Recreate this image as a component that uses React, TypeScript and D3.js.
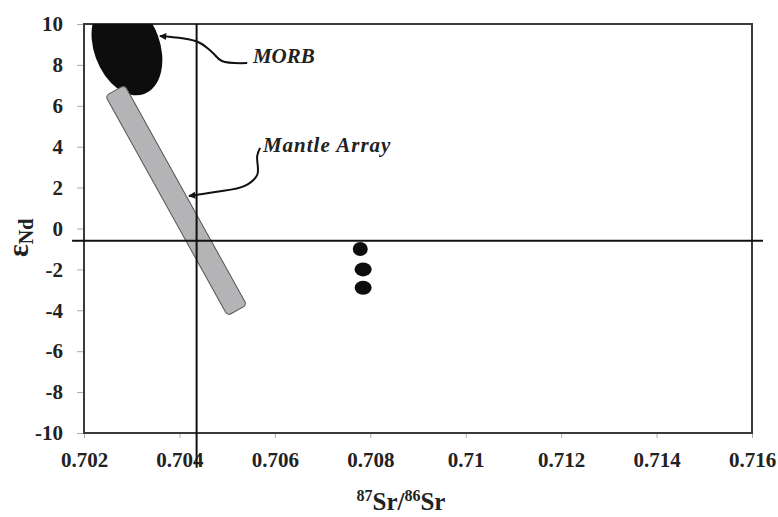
import React, { useRef, useEffect } from 'react';
import * as d3 from 'd3';

const xTicks = [0.702, 0.704, 0.706, 0.708, 0.71, 0.712, 0.714, 0.716];
const yTicks = [-10, -8, -6, -4, -2, 0, 2, 4, 6, 8, 10];

// sample points (87Sr/86Sr, eNd)
const sampleSr = [0.70779, 0.70785, 0.70785];
const sampleNd = [-1, -2, -2.9];

// MORB field: ends of the major axis, and minor/major ratio
const morbAxis: [number, number][] = [[0.70254, 11.17], [0.70326, 6.58]];
const morbRatio = 0.66;

// mantle array: centres of the two ends
const mantleArray: [number, number][] = [[0.70265, 6.75], [0.70521, -4.0]];

// reference lines
const refNd = -0.6;
const refNdSpan = [0.70175, 0.71623];
const refSr = 0.70436;
const refSrSpan = [10, -11.7];

// annotations
const morbArrow: [number, number][] = [
  [0.70542, 8.09], [0.70489, 8.19], [0.70468, 8.63], [0.70439, 9.12], [0.70359, 9.41],
];
const mantleArrow: [number, number][] = [
  [0.70569, 3.94], [0.70563, 3.55], [0.70563, 2.62], [0.70537, 2.08], [0.70475, 1.78], [0.7042, 1.59],
];
const labels = [
  { text: 'MORB', sr: 0.70554, nd: 8.09, spacing: 0 },
  { text: 'Mantle Array', sr: 0.70575, nd: 3.74, spacing: 1 },
];

const W = 778;
const H = 517;
const margin = { top: 24, right: 26, bottom: 84, left: 84 };
const serif = 'Liberation Serif, DejaVu Serif, serif';

const App = () => {
  const svgRef = useRef<SVGSVGElement>(null);

  useEffect(() => {
    const svg = d3.select(svgRef.current);
    svg.selectAll('*').remove();

    const x = d3.scaleLinear().domain([0.702, 0.716]).range([margin.left, W - margin.right]);
    const y = d3.scaleLinear().domain([-10, 10]).range([H - margin.bottom, margin.top]);

    const defs = svg.append('defs');
    defs.append('clipPath').attr('id', 'plot')
      .append('rect')
      .attr('x', margin.left).attr('y', margin.top)
      .attr('width', W - margin.left - margin.right)
      .attr('height', H - margin.top - margin.bottom);
    defs.append('marker')
      .attr('id', 'arrow')
      .attr('viewBox', '0 0 10 10')
      .attr('refX', 9).attr('refY', 5)
      .attr('markerWidth', 9).attr('markerHeight', 7)
      .attr('markerUnits', 'userSpaceOnUse')
      .attr('orient', 'auto')
      .append('path').attr('d', 'M0,0L10,5L0,10z').attr('fill', '#111');

    // axes
    const yAxis = d3.axisLeft(y).tickValues(yTicks).tickSize(7).tickPadding(14)
      .tickFormat(d => String(d));
    const gy = svg.append('g').attr('transform', `translate(${margin.left},0)`).call(yAxis);
    const xAxis = d3.axisBottom(x).tickValues(xTicks).tickSize(5).tickPadding(14)
      .tickFormat(d => String(+(+d).toFixed(3)));
    const gx = svg.append('g').attr('transform', `translate(0,${H - margin.bottom})`).call(xAxis);
    [gx, gy].forEach(g => {
      g.attr('font-family', serif).attr('font-size', 21).attr('font-weight', 'bold');
      g.select('.domain').remove();
      g.selectAll('.tick line').attr('stroke', '#aaa');
      g.selectAll('.tick text').attr('fill', '#222');
    });

    // frame
    svg.append('rect')
      .attr('x', margin.left).attr('y', margin.top)
      .attr('width', W - margin.left - margin.right)
      .attr('height', H - margin.top - margin.bottom)
      .attr('fill', 'none').attr('stroke', '#3a3a3a').attr('stroke-width', 2);

    const plot = svg.append('g').attr('clip-path', 'url(#plot)');

    // MORB field
    const [m1, m2] = morbAxis.map(([a, b]) => [x(a), y(b)]);
    const semiMajor = Math.hypot(m2[0] - m1[0], m2[1] - m1[1]) / 2;
    const angle = Math.atan2(m2[1] - m1[1], m2[0] - m1[0]) * 180 / Math.PI;
    plot.append('ellipse')
      .attr('transform', `translate(${(m1[0] + m2[0]) / 2},${(m1[1] + m2[1]) / 2}) rotate(${angle})`)
      .attr('rx', semiMajor).attr('ry', semiMajor * morbRatio)
      .attr('fill', '#0d0d0d');

    // mantle array
    const [a1, a2] = mantleArray.map(([a, b]) => [x(a), y(b)]);
    const len = Math.hypot(a2[0] - a1[0], a2[1] - a1[1]);
    const ang = Math.atan2(a2[1] - a1[1], a2[0] - a1[0]) * 180 / Math.PI;
    svg.append('rect')
      .attr('transform', `translate(${a1[0]},${a1[1]}) rotate(${ang})`)
      .attr('x', 0).attr('y', -11)
      .attr('width', len).attr('height', 22)
      .attr('rx', 4)
      .attr('fill', '#b4b4b6').attr('stroke', '#555').attr('stroke-width', 1);

    // reference lines
    svg.append('line')
      .attr('x1', x(refNdSpan[0])).attr('x2', x(refNdSpan[1]))
      .attr('y1', y(refNd)).attr('y2', y(refNd))
      .attr('stroke', '#111').attr('stroke-width', 2);
    svg.append('line')
      .attr('x1', x(refSr)).attr('x2', x(refSr))
      .attr('y1', y(refSrSpan[0])).attr('y2', y(refSrSpan[1]))
      .attr('stroke', '#111').attr('stroke-width', 2);

    // samples
    svg.selectAll('ellipse.sample')
      .data(sampleSr.map((s, i) => [s, sampleNd[i]]))
      .enter().append('ellipse')
      .attr('class', 'sample')
      .attr('cx', d => x(d[0])).attr('cy', d => y(d[1]))
      .attr('rx', (d, i) => (i === 0 ? 7.5 : 8.5))
      .attr('ry', 7)
      .attr('fill', '#0d0d0d');

    // annotation arrows
    const line = d3.line<[number, number]>()
      .x(d => x(d[0])).y(d => y(d[1]))
      .curve(d3.curveCatmullRom);
    [morbArrow, mantleArrow].forEach(pts => {
      svg.append('path')
        .attr('d', line(pts))
        .attr('fill', 'none')
        .attr('stroke', '#111')
        .attr('stroke-width', 2)
        .attr('marker-end', 'url(#arrow)');
    });
    svg.selectAll('text.note')
      .data(labels)
      .enter().append('text')
      .attr('class', 'note')
      .attr('x', d => x(d.sr)).attr('y', d => y(d.nd))
      .attr('font-family', serif)
      .attr('font-weight', 'bold')
      .attr('font-style', 'italic')
      .attr('font-size', 21)
      .attr('letter-spacing', d => d.spacing)
      .attr('fill', '#222')
      .text(d => d.text);

    // axis titles
    const xt = svg.append('text')
      .attr('x', 401).attr('y', 510)
      .attr('text-anchor', 'middle')
      .attr('font-family', serif)
      .attr('font-weight', 'bold')
      .attr('font-size', 25)
      .attr('fill', '#222');
    xt.append('tspan').attr('dy', -9).attr('font-size', 16).text('87');
    xt.append('tspan').attr('dy', 9).text('Sr/');
    xt.append('tspan').attr('dy', -9).attr('font-size', 16).text('86');
    xt.append('tspan').attr('dy', 9).text('Sr');

    const yt = svg.append('text')
      .attr('transform', 'translate(28,257) rotate(-90)')
      .attr('font-family', serif)
      .attr('font-weight', 'bold')
      .attr('fill', '#222');
    yt.append('tspan').attr('font-size', 30).text('ε');
    yt.append('tspan').attr('dy', 5).attr('font-size', 20).text('Nd');
  }, []);

  return (
    <svg
      ref={svgRef}
      width={W}
      height={H}
      style={{ position: 'absolute', left: 0, top: 0, background: '#fff' }}
    />
  );
};

export default App;
